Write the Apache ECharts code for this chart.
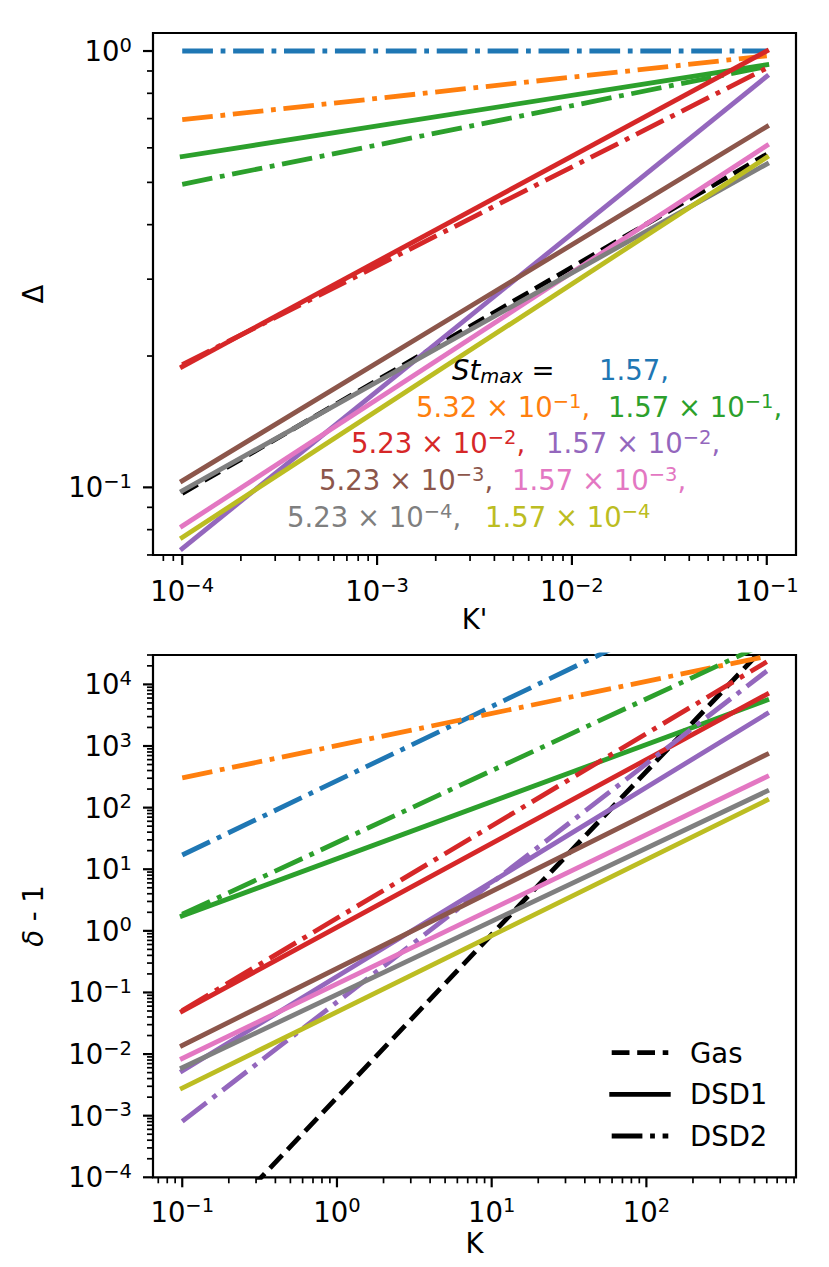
<!DOCTYPE html>
<html><head><meta charset="utf-8">
<script src="https://cdn.jsdelivr.net/npm/echarts@6/dist/echarts.min.js"></script>
<style>html,body{margin:0;padding:0;background:#fff}#c{width:829px;height:1267px}</style>
</head><body><div id="c"></div>
<script>
// ---------------- data ----------------
// top panel: Delta vs K'
const kPrime = [1e-4, 1e-1];
const deltaGas        = [0.0969, 0.58];
const deltaBlueDSD2   = [1.0, 1.0];
const deltaOrangeDSD2 = [0.696, 0.975];
const deltaGreenDSD1  = [0.573, 0.93];
const deltaGreenDSD2  = [0.495, 0.922];
const deltaRedDSD1    = [0.189, 1.0];
const deltaRedDSD2    = [0.191, 0.914];
const deltaPurpleDSD1 = [0.0724, 0.875];
const deltaBrownDSD1  = [0.1035, 0.671];
const deltaPinkDSD1   = [0.0815, 0.607];
const deltaGrayDSD1   = [0.0982, 0.551];
const deltaOliveDSD1  = [0.0768, 0.571];

// bottom panel: delta - 1 vs K
const kVals = [0.1, 600];
const dGas        = [4.45e-6, 4.42e4];
const dBlueDSD2   = [17, 6.1e5];
const dOrangeDSD2 = [305, 28600];
const dGreenDSD1  = [1.75, 5560];
const dGreenDSD2  = [1.86, 4.7e4];
const dRedDSD1    = [0.0497, 6900];
const dRedDSD2    = [0.051, 23300];
const dPurpleDSD1 = [0.0053, 3340];
const dPurpleDSD2 = [0.00081, 16500];
const dBrownDSD1  = [0.0138, 731];
const dPinkDSD1   = [0.0085, 318];
const dGrayDSD1   = [0.0060, 185];
const dOliveDSD1  = [0.0028, 132];

// tick labels (decades) and their exponents
const topXTicks = [1e-4, 1e-3, 1e-2, 1e-1];
const topXTickExp = ['−4', '−3', '−2', '−1'];
const topYTicks = [1, 0.1];
const topYTickExp = ['0', '−1'];
const botXTicks = [0.1, 1, 10, 100];
const botXTickExp = ['−1', '0', '1', '2'];
const botYTicks = [1e-4, 1e-3, 1e-2, 1e-1, 1, 10, 100, 1000, 10000];
const botYTickExp = ['−4', '−3', '−2', '−1', '0', '1', '2', '3', '4'];

// St_max annotation
const stMant = ['1.57', '5.32', '1.57', '5.23', '1.57', '5.23', '1.57', '5.23', '1.57'];
const stExp  = [null, '−1', '−1', '−2', '−2', '−3', '−3', '−4', '−4'];
const legendNames = ['Gas', 'DSD1', 'DSD2'];

// ---------------- style ----------------
const FONT = 'DejaVu Sans';
const COL = ['#1f77b4', '#ff7f0e', '#2ca02c', '#d62728', '#9467bd', '#8c564b', '#e377c2', '#7f7f7f', '#bcbd22'];
const LW = 4.8;
const DD = [30.7, 7.7, 4.8, 7.7];
const DASH = [17.8, 7.7];

function mk(idx, xs, ys, color, kind) {
  return {
    type: 'line', xAxisIndex: idx, yAxisIndex: idx,
    data: xs.map((x, i) => [x, ys[i]]),
    symbol: 'none', silent: true, clip: true, animation: false,
    lineStyle: { color: color, width: LW, type: kind === 'solid' ? 'solid' : (kind === 'dd' ? DD : DASH),
      cap: kind === 'solid' ? 'square' : 'butt', join: 'round' }
  };
}

const series = [
  mk(0, kPrime, deltaGas, '#000', 'dash'),
  mk(0, kPrime, deltaBlueDSD2, COL[0], 'dd'),
  mk(0, kPrime, deltaOrangeDSD2, COL[1], 'dd'),
  mk(0, kPrime, deltaGreenDSD1, COL[2], 'solid'),
  mk(0, kPrime, deltaGreenDSD2, COL[2], 'dd'),
  mk(0, kPrime, deltaRedDSD1, COL[3], 'solid'),
  mk(0, kPrime, deltaRedDSD2, COL[3], 'dd'),
  mk(0, kPrime, deltaPurpleDSD1, COL[4], 'solid'),
  mk(0, kPrime, deltaBrownDSD1, COL[5], 'solid'),
  mk(0, kPrime, deltaPinkDSD1, COL[6], 'solid'),
  mk(0, kPrime, deltaGrayDSD1, COL[7], 'solid'),
  mk(0, kPrime, deltaOliveDSD1, COL[8], 'solid'),

  mk(1, kVals, dGas, '#000', 'dash'),
  mk(1, kVals, dBlueDSD2, COL[0], 'dd'),
  mk(1, kVals, dOrangeDSD2, COL[1], 'dd'),
  mk(1, kVals, dGreenDSD1, COL[2], 'solid'),
  mk(1, kVals, dGreenDSD2, COL[2], 'dd'),
  mk(1, kVals, dRedDSD1, COL[3], 'solid'),
  mk(1, kVals, dRedDSD2, COL[3], 'dd'),
  mk(1, kVals, dPurpleDSD1, COL[4], 'solid'),
  mk(1, kVals, dPurpleDSD2, COL[4], 'dd'),
  mk(1, kVals, dBrownDSD1, COL[5], 'solid'),
  mk(1, kVals, dPinkDSD1, COL[6], 'solid'),
  mk(1, kVals, dGrayDSD1, COL[7], 'solid'),
  mk(1, kVals, dOliveDSD1, COL[8], 'solid')
];

const hidden = { axisLine: { show: false }, axisTick: { show: false }, axisLabel: { show: false },
  splitLine: { show: false }, minorTick: { show: false }, minorSplitLine: { show: false } };
const ext = {
  topX: [Math.pow(10, -4.15), Math.pow(10, -0.85)],
  topY: [Math.pow(10, -1.155), Math.pow(10, 0.0413)],
  botX: [Math.pow(10, -1.189), Math.pow(10, 2.967)],
  botY: [1e-4, 3e4]
};

const option = {
  animation: false,
  backgroundColor: '#fff',
  grid: [
    { left: 153, top: 33, width: 643, height: 522, show: true, borderColor: '#000', borderWidth: 2.2, backgroundColor: 'transparent' },
    { left: 153, top: 655, width: 643, height: 522.3, show: true, borderColor: '#000', borderWidth: 2.2, backgroundColor: 'transparent' }
  ],
  xAxis: [
    Object.assign({ type: 'log', logBase: 10, gridIndex: 0, min: ext.topX[0], max: ext.topX[1] }, hidden),
    Object.assign({ type: 'log', logBase: 10, gridIndex: 1, min: ext.botX[0], max: ext.botX[1] }, hidden)
  ],
  yAxis: [
    Object.assign({ type: 'log', logBase: 10, gridIndex: 0, min: ext.topY[0], max: ext.topY[1] }, hidden),
    Object.assign({ type: 'log', logBase: 10, gridIndex: 1, min: ext.botY[0], max: ext.botY[1] }, hidden)
  ],
  series: series
};

const chart = echarts.init(document.getElementById('c'), null, { renderer: 'svg', width: 829, height: 1267 });
chart.setOption(option);

// ---------------- ticks, labels, annotation, legend ----------------
const G = [];
function pxX(i, v) { return chart.convertToPixel({ xAxisIndex: i }, v); }
function pxY(i, v) { return chart.convertToPixel({ yAxisIndex: i }, v); }
function richFor(color) {
  return {
    b: { fontFamily: FONT, fontSize: 27.5, lineHeight: 32, fill: color, verticalAlign: 'middle' },
    s: { fontFamily: FONT, fontSize: 19.5, lineHeight: 18, fill: color, verticalAlign: 'top' },
    i: { fontFamily: FONT, fontSize: 27.5, lineHeight: 32, fill: color, fontStyle: 'italic', verticalAlign: 'middle' },
    u: { fontFamily: FONT, fontSize: 19.5, lineHeight: 20, fill: color, fontStyle: 'italic', verticalAlign: 'bottom' }
  };
}
function text(x, y, str, color, align, rot) {
  const el = { type: 'text', x: x, y: y, silent: true, z: 100,
    style: { text: str, rich: richFor(color), fill: color, fontFamily: FONT, fontSize: 27.5,
      textAlign: align, align: align, textVerticalAlign: 'middle', verticalAlign: 'middle' } };
  if (rot) el.rotation = rot;
  return el;
}
function seg(x1, y1, x2, y2, w, extra) {
  return Object.assign({ type: 'line', silent: true, z: 100, shape: { x1: x1, y1: y1, x2: x2, y2: y2 },
    style: Object.assign({ stroke: '#000', lineWidth: w }, extra || {}) });
}

const panels = [
  { i: 0, xE: ext.topX, yE: ext.topY, xT: topXTicks, xL: topXTickExp, yT: topYTicks, yL: topYTickExp, bottom: 555, labY: 591 },
  { i: 1, xE: ext.botX, yE: ext.botY, xT: botXTicks, xL: botXTickExp, yT: botYTicks, yL: botYTickExp, bottom: 1177.3, labY: 1211.5 }
];
const LEFT = 153;
panels.forEach(p => {
  // minor ticks
  const lo = Math.floor(Math.log10(Math.min(p.xE[0], p.yE[0]))) - 1;
  const hi = Math.ceil(Math.log10(Math.max(p.xE[1], p.yE[1]))) + 1;
  for (let e = lo; e <= hi; e++) {
    for (let m = 2; m <= 9; m++) {
      const v = m * Math.pow(10, e);
      if (v >= p.xE[0] * 0.995 && v <= p.xE[1] * 1.005) {
        const x = pxX(p.i, v);
        G.push(seg(x, p.bottom, x, p.bottom + 6, 1.7));
      }
      if (v >= p.yE[0] * 0.995 && v <= p.yE[1] * 1.005) {
        const y = pxY(p.i, v);
        G.push(seg(LEFT, y, LEFT - 6, y, 1.7));
      }
    }
  }
  // major ticks + labels
  p.xT.forEach((v, k) => {
    const x = pxX(p.i, v);
    G.push(seg(x, p.bottom, x, p.bottom + 10, 2.2));
    G.push(text(x, p.labY, '{b|10}{s|' + p.xL[k] + '}', '#000', 'center'));
  });
  p.yT.forEach((v, k) => {
    const y = pxY(p.i, v);
    G.push(seg(LEFT, y, LEFT - 10, y, 2.2));
    G.push(text(132, y, '{b|10}{s|' + p.yL[k] + '}', '#000', 'right'));
  });
});

// axis titles
G.push(text(474.5, 619, "{b|K'}", '#000', 'center'));
G.push(text(474.5, 1242.5, '{b|K}', '#000', 'center'));
G.push(text(32.5, 294, '{b|Δ}', '#000', 'center', Math.PI / 2));
G.push(text(32.5, 916, '{i|δ}{b| - 1}', '#000', 'center', Math.PI / 2));

// St_max annotation
const annoPos = [[599, 370], [416, 407], [608, 407], [351, 443], [546, 443], [319, 480], [512, 480], [287, 517], [485, 517]];
G.push(text(452, 370, '{i|St}{u|max}{b| =}', '#000', 'left'));
stMant.forEach((m, k) => {
  let s = '{b|' + m + (stExp[k] ? ' × 10' : '') + '}';
  if (stExp[k]) s += '{s|' + stExp[k] + '}';
  if (k < stMant.length - 1) s += '{b|,}';
  G.push(text(annoPos[k][0], annoPos[k][1], s, COL[k], 'left'));
});

// legend
const legY = [1052.7, 1094.3, 1136];
const legStyles = [{ lineDash: DASH, lineCap: 'butt' }, { lineCap: 'square' }, { lineDash: DD, lineCap: 'butt' }];
legendNames.forEach((n, k) => {
  G.push(seg(611.7, legY[k], 668.3, legY[k], LW, legStyles[k]));
  G.push(text(690, legY[k], '{b|' + n + '}', '#000', 'left'));
});

chart.setOption({ graphic: G });
</script>
</body></html>
